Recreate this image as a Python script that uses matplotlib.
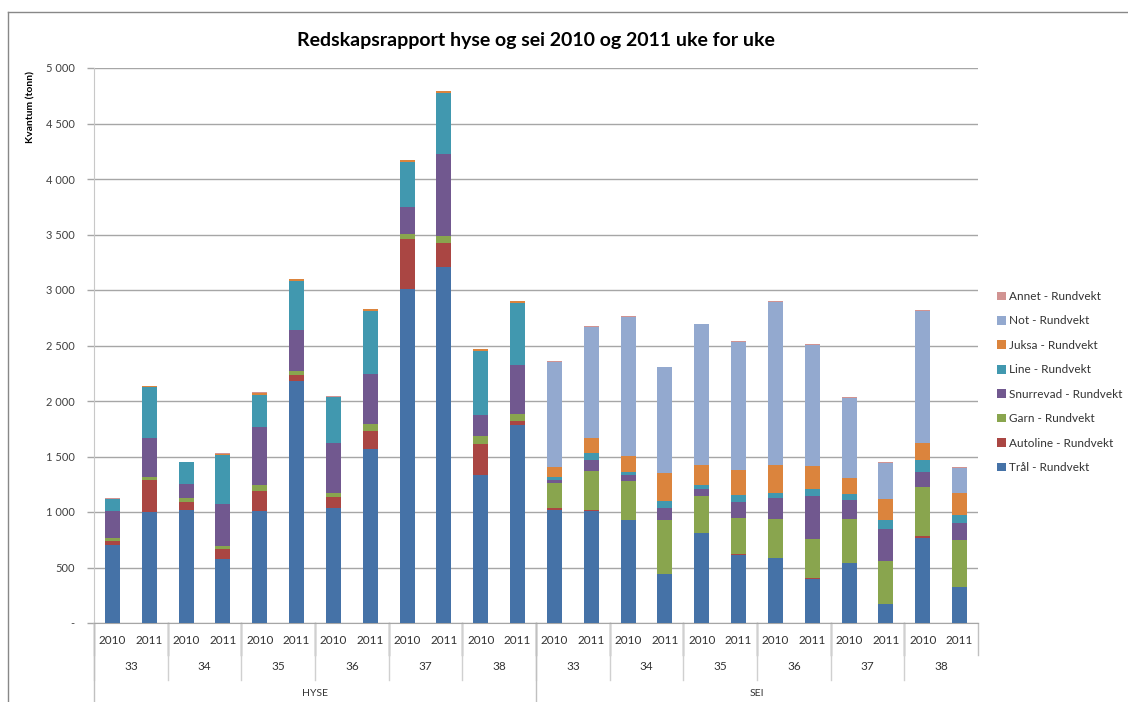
import numpy as np
import matplotlib
matplotlib.use("Agg")
import matplotlib.pyplot as plt
from matplotlib.lines import Line2D
from matplotlib.ticker import FuncFormatter

plt.rcParams['font.family'] = ['Lato', 'DejaVu Sans']

# categories: art / uke / år
arter = ["HYSE", "SEI"]
uker = ["33", "34", "35", "36", "37", "38"]
aar = ["2010", "2011"]

# tonn per redskap, 24 bars (HYSE 33-38 x 2010/2011, then SEI)
tral = [700, 1000, 1015, 575, 1010, 2180, 1035, 1570, 3010, 3210, 1335, 1780,
        1020, 1010, 928, 441, 808, 610, 588, 396, 540, 171, 769, 324]
autoline = [40, 285, 78, 92, 175, 50, 100, 160, 450, 213, 280, 40,
            18, 12, 0, 0, 6, 9, 0, 12, 0, 0, 15, 0]
garn = [30, 30, 33, 30, 55, 38, 40, 63, 42, 63, 67, 63,
        220, 345, 351, 490, 330, 324, 349, 349, 397, 390, 441, 424]
snurrevad = [235, 355, 126, 375, 530, 372, 448, 447, 245, 742, 192, 441,
             33, 105, 57, 102, 63, 150, 189, 387, 168, 286, 138, 153]
line = [115, 460, 200, 440, 285, 440, 410, 570, 410, 547, 576, 562,
        24, 58, 27, 66, 33, 60, 48, 66, 57, 84, 105, 75]
juksa = [0, 3, 0, 15, 20, 15, 3, 15, 12, 15, 15, 12,
         90, 141, 144, 255, 183, 225, 249, 207, 141, 186, 154, 192]
not_ = [0, 0, 0, 0, 0, 0, 0, 0, 0, 0, 0, 0,
        950, 997, 1250, 949, 1271, 1151, 1472, 1090, 724, 327, 1192, 231]
annet = [3, 6, 2, 2, 2, 2, 10, 2, 2, 2, 2, 2,
         8, 4, 5, 6, 4, 9, 6, 6, 6, 6, 6, 6]

serier = [
    ("Trål - Rundvekt", tral, "#4572A7"),
    ("Autoline - Rundvekt", autoline, "#AA4643"),
    ("Garn - Rundvekt", garn, "#89A54E"),
    ("Snurrevad - Rundvekt", snurrevad, "#71588F"),
    ("Line - Rundvekt", line, "#4198AF"),
    ("Juksa - Rundvekt", juksa, "#DB843D"),
    ("Not - Rundvekt", not_, "#93A9CF"),
    ("Annet - Rundvekt", annet, "#D19392"),
]

W, H = 1128, 702
fig = plt.figure(figsize=(W / 100, H / 100), dpi=100)
ax = fig.add_axes([94 / W, 79 / H, 884 / W, 555 / H])

n = len(tral)
x = np.arange(n)
bunn = np.zeros(n)
handles = []
for navn, vals, farge in serier:
    b = ax.bar(x, vals, 0.41, bottom=bunn, color=farge, label=navn, zorder=3)
    bunn += np.array(vals)
    handles.append(b)

ax.set_xlim(-0.5, n - 0.5)
ax.set_ylim(0, 5000)
ax.set_yticks(np.arange(0, 5001, 500))
ax.yaxis.set_major_formatter(FuncFormatter(
    lambda v, p: "-" if v == 0 else f"{int(v):,}".replace(",", " ")))
ax.grid(axis='y', color='#a6a6a6', lw=1, zorder=0)
ax.tick_params(axis='y', length=5, width=1, color='#a6a6a6', pad=9,
               labelsize=8, labelcolor='#404040')
ax.set_xticks([])
for s in ['top', 'right']:
    ax.spines[s].set_visible(False)
ax.spines['left'].set_color('#c8c8c8')
ax.spines['bottom'].set_color('#a6a6a6')

ax.set_ylabel("Kvantum (tonn)", fontsize=7.5, fontweight='bold', loc='top')
ax.yaxis.set_label_coords(-59 / 884, 0.995)

# hierarchical category axis
tr = ax.get_xaxis_transform()
py = 1 / 555
for i in range(n):
    ax.text(i, -18 * py, aar[i % 2], transform=tr, ha='center', va='center',
            fontsize=8.5, color='#333333')
    if i % 2 == 1:
        ax.plot([i + 0.5, i + 0.5], [0, -32 * py], transform=tr, color='#c0c0c0',
                lw=1, clip_on=False)
    else:
        ax.plot([i - 0.5, i - 0.5], [0, -32 * py], transform=tr, color='#b0b0b0',
                lw=1, clip_on=False)
for j in range(n // 2):
    ax.text(2 * j + 0.5, -44 * py, uker[j % 6], transform=tr, ha='center',
            va='center', fontsize=8.5, color='#333333')
    ax.plot([2 * j - 0.5, 2 * j - 0.5], [0, -57 * py], transform=tr,
            color='#d0d0d0', lw=1, clip_on=False)
for k, art in enumerate(arter):
    ax.text(12 * k + 5.5, -70 * py, art, transform=tr, ha='center', va='center',
            fontsize=7.5, color='#333333')
    ax.plot([12 * k - 0.5, 12 * k - 0.5], [0, -90 * py], transform=tr,
            color='#c0c0c0', lw=1, clip_on=False)

ax.set_title("Redskapsrapport hyse og sei 2010 og 2011 uke for uke",
             fontsize=14, fontweight='bold', pad=16, x=0.5)

leg = fig.legend(handles[::-1], [s[0] for s in serier][::-1],
                 loc='upper left', bbox_to_anchor=(997 / W, 1 - 291 / H),
                 frameon=False, fontsize=8.5, handlelength=0.75, handleheight=0.75,
                 handletextpad=0.25, labelspacing=1.14, borderpad=0, borderaxespad=0)
for t in leg.get_texts():
    t.set_color('#333333')

# chart area border
fig.add_artist(Line2D([8 / W, 8 / W], [0, 1 - 12 / H], color='#888888', lw=1))
fig.add_artist(Line2D([8 / W, 1], [1 - 12 / H, 1 - 12 / H], color='#888888', lw=1))

fig.savefig("out.png", dpi=100)
